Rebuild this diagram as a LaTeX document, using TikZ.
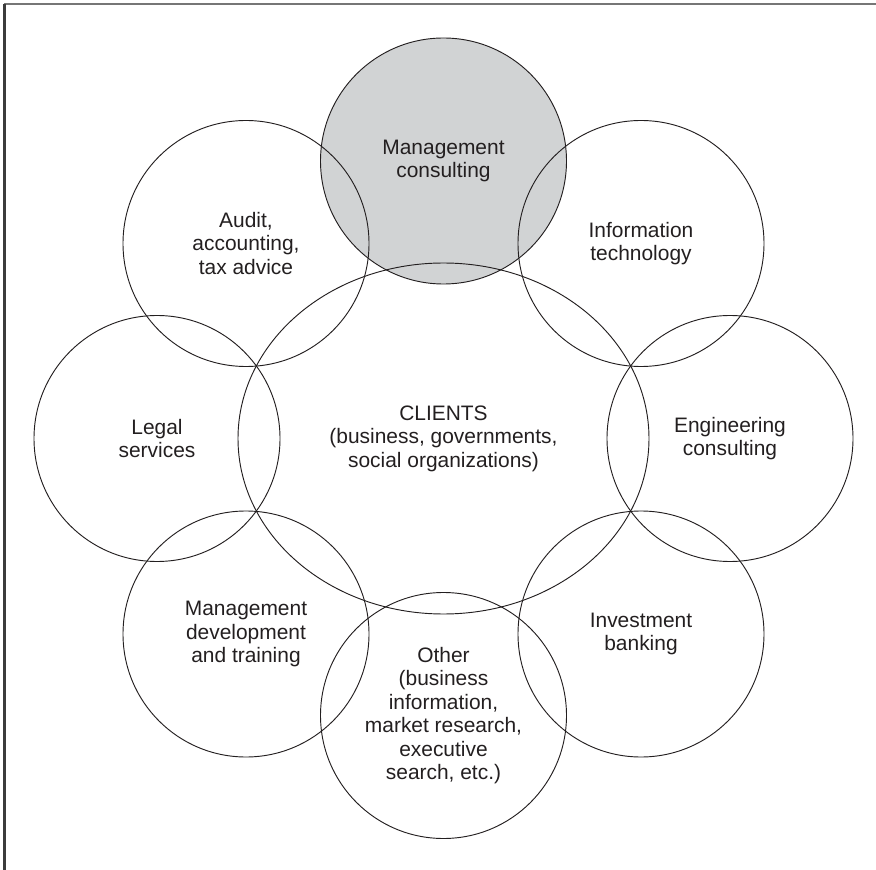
\documentclass[tikz,border=0pt]{standalone}
\usepackage{fontspec}
\setmainfont{Liberation Sans}
\usetikzlibrary{shapes.geometric}
\definecolor{fieldgray}{RGB}{209,211,212}
\definecolor{ink}{RGB}{35,31,32}
\begin{document}
\begin{tikzpicture}[x=0.75pt,y=-0.75pt]
%define
\tikzstyle{area} = [circle, minimum size=184.5pt, inner sep=2pt, text centered, align=center, draw=ink, line width=0.7pt, text=ink, font=\fontsize{15.7}{17.6}\selectfont]
\tikzstyle{area_g} = [area, fill=fieldgray]
\tikzstyle{area_c} = [ellipse, minimum width=308.25pt, minimum height=263.25pt, inner sep=2pt, text centered, align=center, draw=ink, line width=0.7pt, text=ink, font=\fontsize{15.7}{17.6}\selectfont]
\tikzstyle{rim_top} = [line width=1.3pt, draw={rgb,255:red,118;green,118;blue,118}]
\tikzstyle{rim_left} = [line width=2pt, draw={rgb,255:red,60;green,60;blue,60}]

\useasboundingbox (0,0) rectangle (876,870);
%frame
\draw[rim_top](4,4)--(876,4);
\draw[rim_left](4.5,4)--(4.5,870);

%fields
\node[area_g](area_MC) at (443.5,161){Management\\consulting};
\node[area_c](area_Clients) at (443.5,438.5){CLIENTS\\(business, governments,\\social organizations)};
\node[area](area_Audit) at (246,243.5){Audit,\\accounting,\\tax advice};
\node[area](area_IT) at (641,243.5){Information\\technology};
\node[area](area_Legal) at (157,438.5){Legal\\services};
\node[area](area_Eng) at (730,438.5){Engineering\\consulting};
\node[area](area_MD) at (246,634){Management\\development\\and training};
\node[area](area_IB) at (641,634){Investment\\banking};
\node[area](area_Other) at (443.5,715.5){Other\\(business\\information,\\market research,\\executive\\search, etc.)};

\end{tikzpicture}
\end{document}
